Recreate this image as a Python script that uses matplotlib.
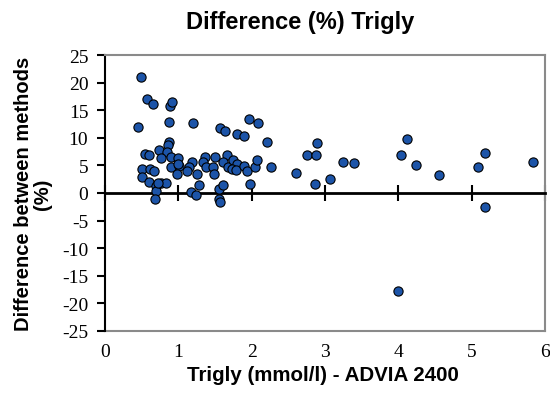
import matplotlib
matplotlib.use('Agg')
import matplotlib.pyplot as plt

# Trigly ADVIA 2400 (mmol/l) vs difference between methods (%)
trigly = [0.49, 0.45, 0.57, 0.65, 0.88, 0.92, 0.87, 1.20, 1.57, 1.64,
          1.80, 1.90, 1.97, 2.09, 2.21, 0.87, 0.86, 0.73, 0.84, 0.54,
          0.60, 0.77, 0.90, 1.00, 0.90, 1.01, 0.98, 0.50, 0.50, 0.61,
          0.67, 0.60, 0.77, 0.83, 0.70, 0.69, 0.68, 1.19, 1.15, 1.12,
          1.25, 1.28, 1.17, 1.24, 1.36, 1.34, 1.38, 1.50, 1.47, 1.49,
          1.55, 1.56, 1.57, 1.61, 1.66, 1.61, 1.68, 1.75, 1.80, 1.73,
          1.78, 1.89, 1.93, 1.98, 2.05, 2.07, 2.26, 0.72, 1.00,
          2.60, 2.75, 2.88, 2.89, 2.86, 3.07, 3.25, 3.39, 4.04, 4.12,
          4.24, 4.55, 5.08, 5.18, 5.18, 5.84, 3.99]
diff_pct = [21.0, 11.9, 17.0, 16.1, 15.8, 16.4, 12.8, 12.7, 11.7, 11.2,
            10.6, 10.3, 13.4, 12.7, 9.2, 9.3, 8.7, 7.8, 7.5, 7.1,
            6.9, 6.3, 6.5, 6.3, 4.7, 4.9, 3.4, 4.3, 2.9, 4.3,
            4.0, 2.0, 1.9, 1.8, 1.3, 0.3, -1.0, 5.6, 4.7, 3.9,
            3.4, 1.4, 0.1, -0.3, 6.6, 5.7, 4.8, 6.5, 4.8, 3.4,
            0.7, -1.0, -1.6, 1.4, 6.8, 5.6, 4.7, 6.0, 5.3, 4.3,
            4.2, 4.9, 3.9, 1.7, 4.8, 5.9, 4.8, 1.9, 5.3,
            3.7, 6.9, 6.9, 9.0, 1.6, 2.5, 5.6, 5.4, 6.9, 9.8,
            5.1, 3.3, 4.8, 7.2, -2.6, 5.6, -17.7]

xticks = [0, 1, 2, 3, 4, 5, 6]
yticks = list(range(-25, 30, 5))

sans = 'Liberation Sans'
serif = 'Liberation Serif'
frame_grey = '#8a8a8a'

fig = plt.figure(figsize=(5.5, 4.06), dpi=100)
ax = fig.add_axes([105 / 550, 1 - 332 / 406, 440 / 550, 276 / 406])

ax.scatter(trigly, diff_pct, s=44, color='#1c54a8', edgecolors='black',
           linewidths=0.8, zorder=3, clip_on=False)

ax.set_xlim(0, 6)
ax.set_ylim(-25, 25)

# x axis crosses at zero, tick labels stay at the bottom
ax.spines['bottom'].set_position(('data', 0))
ax.spines['bottom'].set_color('black')
ax.spines['bottom'].set_linewidth(2)
ax.spines['left'].set_color('black')
ax.spines['left'].set_linewidth(1.5)
for side in ['top', 'right']:
    ax.spines[side].set_color(frame_grey)
    ax.spines[side].set_linewidth(1.5)

ax.set_xticks(xticks)
ax.tick_params(axis='x', direction='inout', length=12, width=1.5,
               labelbottom=False)
ax.set_yticks(yticks)
ax.set_yticklabels([str(v) for v in yticks], fontfamily=serif, fontsize=14)
ax.tick_params(axis='y', direction='out', length=6, width=1.5, pad=6)

sec = ax.secondary_xaxis('bottom')
sec.set_xticks(xticks)
sec.set_xticklabels([str(v) for v in xticks], fontfamily=serif, fontsize=14)
sec.tick_params(length=0, pad=9)
sec.spines['bottom'].set_color(frame_grey)
sec.spines['bottom'].set_linewidth(1.5)

fig.text(300 / 550, 1 - 22 / 406, 'Difference (%) Trigly', ha='center',
         va='center', fontfamily=sans, fontweight='bold', fontsize=17)
fig.text(323 / 550, 1 - 376 / 406, 'Trigly (mmol/l) - ADVIA 2400', ha='center',
         va='center', fontfamily=sans, fontweight='bold', fontsize=14.8)
fig.text(33 / 550, 1 - 194 / 406, 'Difference between methods\n(%)',
         ha='center', va='center', rotation=90, linespacing=0.95,
         fontfamily=sans, fontweight='bold', fontsize=14.5)

fig.savefig('out.png', dpi=100)
